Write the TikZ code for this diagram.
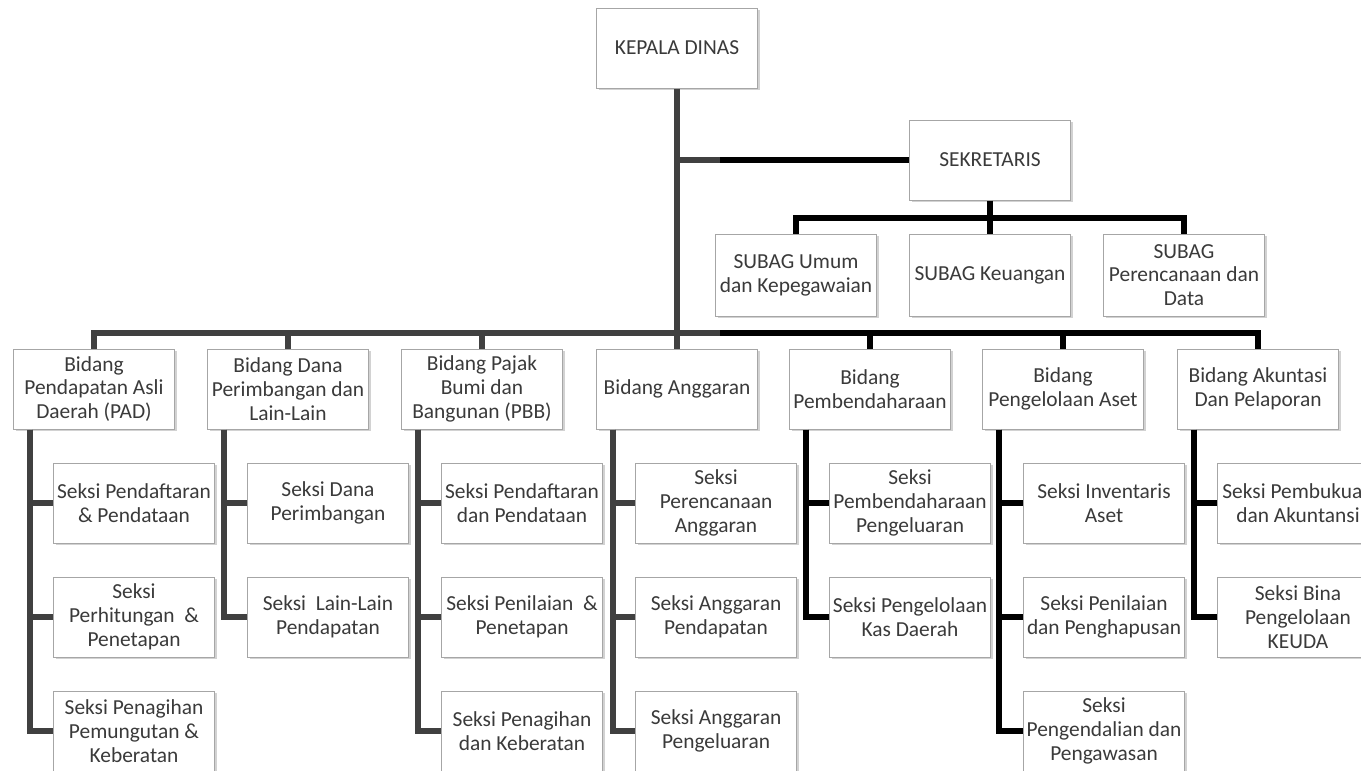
\documentclass[tikz,border=0pt]{standalone}
\usepackage{fontspec}
\setmainfont{Carlito}
\usetikzlibrary{shadows}
\definecolor{linegray}{HTML}{404040}
\definecolor{textgray}{HTML}{3A3A3A}

\begin{document}
\begin{tikzpicture}[x=0.5pt, y=-0.5pt,
  unit/.style={draw=black!35, line width=0.5pt, fill=white, text=textgray,
    minimum width=80.5pt, minimum height=40pt, align=center, inner sep=0.5pt,
    font=\fontsize{10.7}{11.9}\selectfont,
    drop shadow={shadow xshift=1pt, shadow yshift=-1.2pt, fill=black!35, opacity=0.5}},
  link/.style={line width=3pt, draw=black},
  greylink/.style={link, draw=linegray}]
  \useasboundingbox (0,0) rectangle (1361,771);
  \clip (0,0) rectangle (1361,771);

  \node[unit] (kepala) at (677,48) {KEPALA DINAS};
  \node[unit] (sekretaris) at (990,160) {SEKRETARIS};

  \node[unit, minimum height=41pt] (umum) at (796,275) {SUBAG Umum\\dan Kepegawaian};
  \node[unit, minimum height=41pt] (keu) at (990,275) {SUBAG Keuangan};
  \node[unit, minimum height=41pt] (data) at (1184,275) {SUBAG\\Perencanaan dan\\Data};

  \node[unit] (pad) at (94,389) {Bidang\\Pendapatan Asli\\Daerah (PAD)};
  \node[unit] (dana) at (288,389) {Bidang Dana\\Perimbangan dan\\Lain-Lain};
  \node[unit] (pbb) at (482,389) {Bidang Pajak\\Bumi dan\\Bangunan (PBB)};
  \node[unit] (angg) at (677,389) {Bidang Anggaran};
  \node[unit] (pemb) at (870,389) {Bidang\\Pembendaharaan};
  \node[unit] (aset) at (1063,389) {Bidang\\Pengelolaan Aset};
  \node[unit] (akun) at (1258,389) {Bidang Akuntasi\\Dan Pelaporan};

  \node[unit] (pad1) at (134,503) {Seksi Pendaftaran\\\& Pendataan};
  \node[unit] (pad2) at (134,617) {Seksi\\Perhitungan\ \ \&\\Penetapan};
  \node[unit] (pad3) at (134,731) {Seksi Penagihan\\Pemungutan \&\\Keberatan};

  \node[unit] (dana1) at (328,503) {Seksi Dana\\Perimbangan};
  \node[unit] (dana2) at (328,617) {Seksi\ \ Lain-Lain\\Pendapatan};

  \node[unit] (pbb1) at (522,503) {Seksi Pendaftaran\\dan Pendataan};
  \node[unit] (pbb2) at (522,617) {Seksi Penilaian\ \ \&\\Penetapan};
  \node[unit] (pbb3) at (522,731) {Seksi Penagihan\\dan Keberatan};

  \node[unit] (angg1) at (716,503) {Seksi\\Perencanaan\\Anggaran};
  \node[unit] (angg2) at (716,617) {Seksi Anggaran\\Pendapatan};
  \node[unit] (angg3) at (716,731) {Seksi Anggaran\\Pengeluaran};

  \node[unit] (pemb1) at (910,503) {Seksi\\Pembendaharaan\\Pengeluaran};
  \node[unit] (pemb2) at (910,617) {Seksi Pengelolaan\\Kas Daerah};

  \node[unit] (aset1) at (1104,503) {Seksi Inventaris\\Aset};
  \node[unit] (aset2) at (1104,617) {Seksi Penilaian\\dan Penghapusan};
  \node[unit] (aset3) at (1104,731) {Seksi\\Pengendalian dan\\Pengawasan};

  \node[unit] (akun1) at (1298,503) {Seksi Pembukuan\\dan Akuntansi};
  \node[unit] (akun2) at (1298,617) {Seksi Bina\\Pengelolaan\\KEUDA};

  \coordinate (shade) at (720,0);
  \path (angg.north) ++(0,-16) coordinate (hub);

  \draw[link] (kepala.south |- sekretaris.west) -- (sekretaris.west);
  \draw[greylink] (kepala.south |- sekretaris.west) -- (shade |- sekretaris.west);
  \draw[link] (sekretaris.south) -- (keu.north);
  \draw[link] (umum.north) -- ++(0,-16) -| (data.north);

  \draw[link] (hub) -| (akun.north);
  \foreach \b in {pemb,aset}
    \draw[link] (\b.north) -- ++(0,-16);
  \draw[greylink] (hub -| shade) -| (pad.north);
  \foreach \b in {dana,pbb}
    \draw[greylink] (\b.north) -- ++(0,-16);
  \draw[greylink] (kepala.south) -- (angg.north);

  \foreach \b/\n in {pad/3,dana/2,pbb/3,angg/3}
    \foreach \i in {1,...,\n}
      \draw[greylink] ([xshift=8.5pt]\b.south west) |- (\b\i.west);
  \foreach \b/\n in {pemb/2,aset/3,akun/2}
    \foreach \i in {1,...,\n}
      \draw[link] ([xshift=8.5pt]\b.south west) |- (\b\i.west);
\end{tikzpicture}
\end{document}
